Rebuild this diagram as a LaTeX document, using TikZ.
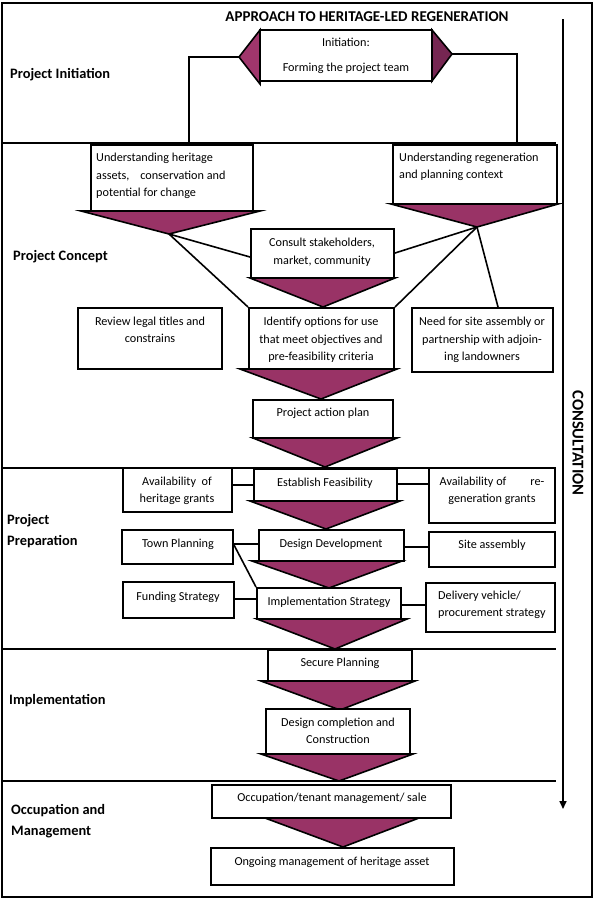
\documentclass[tikz,border=0pt]{standalone}
\usepackage{fontspec}
\setmainfont{Carlito}
\usetikzlibrary{arrows.meta}
\definecolor{plum}{RGB}{153,51,102}
\definecolor{plumdark}{RGB}{118,38,82}
\definecolor{plumlight}{RGB}{160,54,108}
\newcommand\mybox[5]{\node[box, minimum width={(#4-#2)*1pt}, minimum height={(#5-#3)*1pt}] (#1) at ({(#2+#4)/2},{(#3+#5)/2}) {};}
\newcommand\mytri[5]{\draw[tri] (#1,#3) -- (#2,#3) -- (#4,#5) -- cycle;}
\begin{document}
\begin{tikzpicture}[x=1pt,y=-1pt,
 box/.style={draw, line width=2pt, fill=white, inner sep=0pt},
 txt/.style={font=\fontsize{12.2}{17.5}\selectfont, inner sep=0pt},
 tri/.style={draw, fill=plum, line width=1.6pt, line join=miter},
 conn/.style={line width=1.6pt},
 lab/.style={font=\bfseries\fontsize{14.4}{21}\selectfont, inner sep=0pt, anchor=west, align=left}]
\useasboundingbox (0,0) rectangle (594,900);
% frame
\draw[line width=1.6pt] (2,3) rectangle (592,897);
% dividers
\draw[conn] (2,143) -- (556,143);
\draw[conn] (2,468) -- (556,468);
\draw[conn] (2,649) -- (556,649);
\draw[conn] (2,781) -- (556,781);
% consultation arrow
\coordinate (arT) at (563,19);
\coordinate (arB) at (563,809);
\draw[line width=1.6pt, -{Triangle[length=8pt,width=7pt]}] (arT) -- (arB);
\node[font=\bfseries\fontsize{16.5}{18}\selectfont, rotate=-90, inner sep=0pt] (cons) at (578,443) {CONSULTATION};
% title and labels
\node[font=\bfseries\fontsize{15}{18}\selectfont, inner sep=0pt] (title) at (367,17) {APPROACH TO HERITAGE-LED REGENERATION};
\node[lab] (l1) at (10,75) {Project Initiation};
\node[lab] (l2) at (13,257) {Project Concept};
\node[lab] (l3) at (7,531) {Project\\Preparation};
\node[lab] (l4) at (9,701) {Implementation};
\node[lab] (l5) at (11,821) {Occupation and\\Management};
% initiation connectors
\coordinate (iL) at (239,57);
\coordinate (iLd) at (189,143);
\coordinate (iR) at (452,54);
\coordinate (iRd) at (517,143);
\draw[conn] (iL) -| (iLd);
\draw[conn] (iR) -| (iRd);
% triangle tips
\coordinate (tA) at (169,234);
\coordinate (tB) at (477,227);
% initiation
\draw[tri, fill=plumlight] (260,30) -- (iL) -- (260,84) -- cycle;
\draw[tri, fill=plumdark] (432,30) -- (iR) -- (432,81) -- cycle;
\mybox{init}{260}{30}{432}{81}
\node[txt, align=center] (initT) at (346,56) {Initiation:\\[7pt]Forming the project team};
% concept
\mytri{81}{260}{211}{169}{234}
\mytri{391}{558}{204}{477}{227}
\mytri{250}{395}{278}{323}{307}
\mytri{240}{397}{369}{321}{399}
\mytri{253}{397}{438}{325}{467}
\mybox{A}{91}{145}{253}{211}
\mybox{B}{393}{145}{557}{204}
\mybox{C}{251}{229}{394}{278}
\mybox{D}{249}{308}{394}{369}
\mybox{R}{78}{308}{222}{369}
\mybox{E}{412}{308}{553}{372}
\mybox{P}{253}{400}{393}{438}
\draw[conn] (tA) -- (C.west |- 0,257);
\draw[conn] (tA) -- (D.north west);
\draw[conn] (tB) -- (C.east |- 0,253);
\draw[conn] (tB) -- (D.north east);
\draw[conn] (tB) -- (E.north -| 498,0);
\node[txt, align=left, anchor=west] (AT) at (96,176) {Understanding heritage\\assets,\hspace{8pt} conservation and\\potential for change};
\node[txt, align=left, anchor=west] (BT) at (399,167) {Understanding regeneration\\and planning context};
\node[txt, align=center] (CT) at (322,252) {Consult stakeholders,\\market, community};
\node[txt, align=center] (DT) at (321,340) {Identify options for use\\that meet objectives and\\pre-feasibility criteria};
\node[txt, align=center] (RT) at (150,330) {Review legal titles and\\constrains};
\node[txt, align=center] (ET) at (482,340) {Need for site assembly or\\partnership with adjoin-\\ing landowners};
\node[txt] (PT) at (323,413) {Project action plan};
% preparation
\mytri{250}{400}{501}{326}{529}
\mytri{252}{402}{561}{329}{588}
\mytri{257}{407}{619}{335}{649}
\mybox{HG}{123}{468}{232}{512}
\mybox{EF}{254}{469}{397}{501}
\mybox{RG}{429}{468}{555}{523}
\mybox{TP}{122}{530}{233}{564}
\mybox{DD}{259}{530}{404}{561}
\mybox{SA}{429}{532}{555}{567}
\mybox{FS}{123}{582}{234}{618}
\mybox{IS}{257}{588}{401}{619}
\mybox{DV}{426}{583}{555}{632}
\draw[conn] (HG.east |- 0,485) -- (EF.west |- 0,485);
\draw[conn] (EF.east |- 0,484) -- (RG.west |- 0,484);
\draw[conn] (TP.east |- 0,544) -- (DD.west |- 0,544);
\draw[conn] (TP.east |- 0,545) -- (IS.north west);
\draw[conn] (DD.east |- 0,547) -- (SA.west |- 0,547);
\draw[conn] (FS.east |- 0,599) -- (IS.west |- 0,599);
\draw[conn] (IS.east |- 0,605) -- (DV.west |- 0,605);
\node[txt, align=center] (HGT) at (177,491) {Availability\ \ of\\heritage grants};
\node[txt] (EFT) at (325,483) {Establish Feasibility};
\node[txt, align=center] (RGT) at (492,491) {Availability of\hspace{24pt}re-\\generation grants};
\node[txt] (TPT) at (178,544) {Town Planning};
\node[txt] (DDT) at (331,544) {Design Development};
\node[txt] (SAT) at (492,545) {Site assembly};
\node[txt] (FST) at (178,597) {Funding Strategy};
\node[txt] (IST) at (329,602) {Implementation Strategy};
\node[txt, align=left, anchor=west] (DVT) at (438,605) {Delivery vehicle/\\procurement strategy};
% implementation
\mytri{261}{415}{681}{340}{710}
\mytri{261}{413}{754}{339}{781}
\mybox{SP}{268}{650}{412}{681}
\mybox{DC}{266}{709}{410}{754}
\node[txt] (SPT) at (340,663) {Secure Planning};
\node[txt, align=center] (DCT) at (338,731) {Design completion and\\Construction};
% occupation
\mytri{265}{419}{818}{343}{847}
\mybox{OT}{212}{785}{451}{818}
\mybox{OG}{211}{848}{454}{885}
\node[txt] (OTT) at (332,798) {Occupation/tenant management/ sale};
\node[txt] (OGT) at (332,862) {Ongoing management of heritage asset};
\end{tikzpicture}
\end{document}
